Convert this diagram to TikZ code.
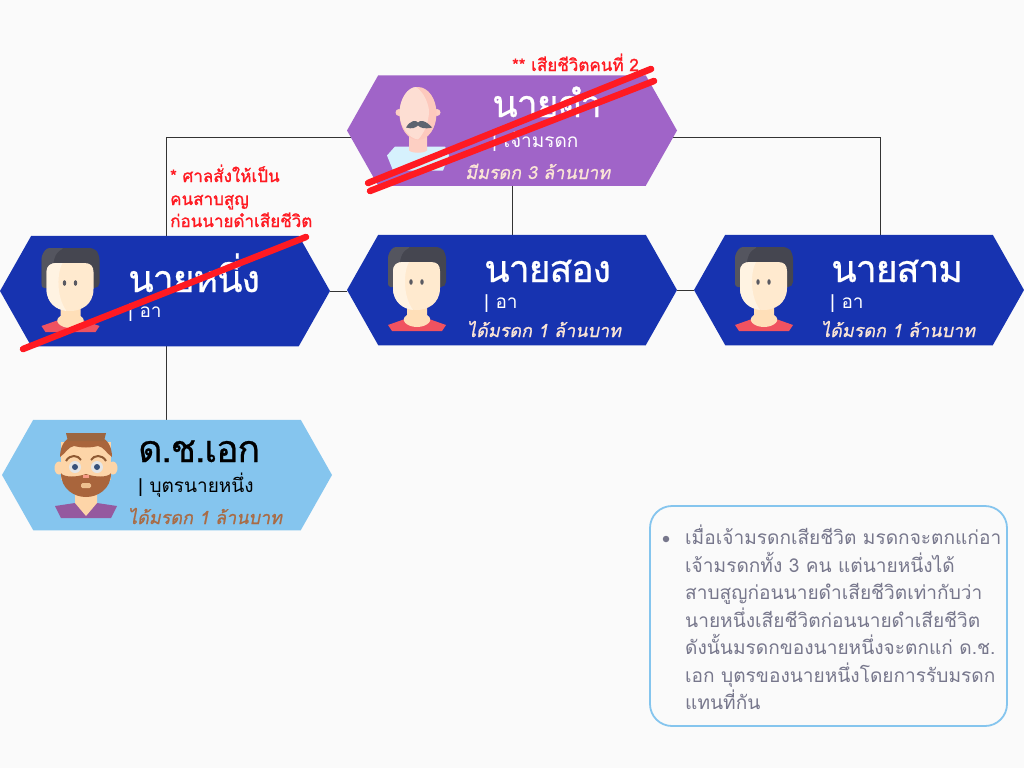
\documentclass[tikz,border=0pt]{standalone}
\usepackage{fontspec}
\setmainfont[Script=Thai]{Loma}
\newfontfamily\titlefont[Script=Thai,FakeBold=0.6,LetterSpace=-3]{Loma}
\newfontfamily\redfont[Script=Thai,FakeBold=1.2]{Loma}
\newfontfamily\moneyfont[Script=Thai,FakeBold=1,FakeSlant=0.2]{Loma}
\usetikzlibrary{shapes.symbols,backgrounds}
\definecolor{pagebg}{HTML}{FAFAFA}
\definecolor{rootfill}{HTML}{A064C8}
\definecolor{heirfill}{HTML}{1733B0}
\definecolor{kidfill}{HTML}{85C5EE}
\definecolor{crossred}{HTML}{FF1A22}
\definecolor{notegray}{HTML}{77778C}
\definecolor{peach}{HTML}{FBE5D6}
\definecolor{brownish}{HTML}{A96B45}
\tikzset{
  hexbox/.style={signal, signal to=east and west, signal pointer angle=121, draw=none,
    minimum width=330pt, minimum height=110.5pt, inner sep=0pt},
  link/.style={draw=black!80, line width=1pt},
  crossout/.style={draw=crossred, line width=6.5pt, line cap=round},
  titletext/.style={anchor=base west, inner sep=0pt, font=\titlefont\fontsize{37.5}{40}\selectfont},
  subtext/.style={anchor=base west, inner sep=0pt, font=\fontsize{19}{24}\selectfont},
  moneytext/.style={anchor=base west, inner sep=0pt, text=peach, font=\moneyfont\fontsize{18}{24}\selectfont},
  redtext/.style={anchor=base west, inner sep=0pt, text=crossred, font=\redfont\fontsize{17}{20}\selectfont},
  pics/youngman/.style={code={
    \fill[rounded corners=5pt, fill={rgb,255:red,69;green,70;blue,80}] (-24,-43) -- (24,-43) -- (29,-36) -- (29,-3) -- (-29,-3) -- (-29,-35) -- cycle;
    \fill[rounded corners=3pt, fill={rgb,255:red,84;green,85;blue,95}] (-24,-43) -- (-6,-43) .. controls (-16,-38) and (-18,-32) .. (-19,-3) -- (-29,-3) -- (-29,-35) -- cycle;
    \fill[fill={rgb,255:red,240;green,82;blue,96}] (-29,35) -- (-12,29) -- (12,29) -- (29,35) -- (25,41) -- (-25,41) -- cycle;
    \fill[fill={rgb,255:red,255;green,223;blue,184}] (-10,12) -- (10,12) -- (10,25) .. controls (18,30) and (10,37) .. (0,37) .. controls (-10,37) and (-18,30) .. (-10,25) -- cycle;
    \fill[fill={rgb,255:red,255;green,234;blue,207}] (-14,-28) -- (14,-28) .. controls (20,-28) and (23,-25) .. (23,-19) -- (23,-2) .. controls (23,14) and (10,20) .. (0,20) .. controls (-10,20) and (-24,14) .. (-24,-2) -- (-24,-19) .. controls (-24,-25) and (-20,-28) .. (-14,-28) -- cycle;
    \fill[fill={rgb,255:red,255;green,243;blue,226}] (-14,-28) -- (-8,-28) .. controls (-13,-20) and (-15,5) .. (-4,20) .. controls (-14,19) and (-24,12) .. (-24,-2) -- (-24,-19) .. controls (-24,-25) and (-20,-28) .. (-14,-28) -- cycle;
    \fill[fill={rgb,255:red,90;green,90;blue,98}] (-6,-8) ellipse (1.7 and 2.8) (5,-8) ellipse (1.7 and 2.8);
  }},
  pics/baldman/.style={code={
    \fill[fill={rgb,255:red,214;green,241;blue,253}] (-31,25) -- (-23,16) -- (27,16) -- (31,25) -- (25,40) -- (-25,40) -- cycle;
    \fill[fill={rgb,255:red,253;green,207;blue,195}] (-9,0) -- (9,0) -- (9,20) .. controls (6,23) and (-6,23) .. (-9,20) -- cycle;
    \fill[fill={rgb,255:red,253;green,207;blue,195}] (-19,-18) circle (3.5) (19,-18) circle (3.5);
    \fill[fill={rgb,255:red,253;green,201;blue,189}] (0,-17) ellipse (18.5 and 26.5);
    \fill[fill={rgb,255:red,253;green,222;blue,211}] (-2,-43.5) .. controls (6,-38) and (10,-28) .. (11,-20) .. controls (11,-8) and (6,3) .. (0,9) .. controls (-10,8) and (-18.5,-6) .. (-18.5,-17) .. controls (-18.5,-32) and (-10,-43.5) .. (-2,-43.5) -- cycle;
    \fill[fill={rgb,255:red,93;green,100;blue,112}] (-12,-3) .. controls (-8,-10) and (-2,-11) .. (0,-8) .. controls (2,-11) and (8,-10) .. (14,-3) .. controls (6,-1) and (2,-3) .. (0,-5) .. controls (-2,-3) and (-6,-1) .. (-12,-3) -- cycle;
  }},
  pics/beardman/.style={code={
    \fill[fill={rgb,255:red,149;green,89;blue,159}] (-31,31) -- (-11,28) -- (11,28) -- (31,31) -- (25,43) -- (-25,43) -- cycle;
    \fill[fill={rgb,255:red,253;green,213;blue,168}] (-11,18) -- (11,18) -- (11,28) -- (0,41) -- (-11,28) -- cycle;
    \fill[fill={rgb,255:red,253;green,213;blue,168}] (-27,-7) ellipse (4.5 and 6.5) (27,-7) ellipse (4.5 and 6.5);
    \fill[fill={rgb,255:red,253;green,213;blue,168}] (-25,-33) rectangle (25,5);
    \fill[fill={rgb,255:red,169;green,101;blue,60}] (-25,-2) .. controls (-22,3) and (-8,2) .. (0,-1) .. controls (8,2) and (22,3) .. (25,-2) .. controls (25,14) and (12,22) .. (0,22) .. controls (-12,22) and (-25,14) .. (-25,-2) -- cycle;
    \fill[fill={rgb,255:red,169;green,101;blue,60}] (-26,-18) .. controls (-26,-32) and (-18,-37) .. (-16,-37) -- (16,-37) .. controls (20,-36) and (26,-30) .. (26,-18) .. controls (20,-22) and (18,-28) .. (12,-29) .. controls (4,-27) and (-4,-27) .. (-12,-29) .. controls (-18,-28) and (-20,-22) .. (-26,-18) -- cycle;
    \fill[fill={rgb,255:red,156;green,102;blue,64}] (-20,-42) -- (20,-42) -- (18,-34) -- (-18,-34) -- cycle;
    \fill[fill={rgb,255:red,229;green,229;blue,229}] (-11,-8) circle (6) (11,-8) circle (6);
    \fill[fill={rgb,255:red,55;green,81;blue,122}] (-11,-8) circle (3) (11,-8) circle (3);
    \draw[line width=2pt, draw={rgb,255:red,143;green,90;blue,51}] (-20,-14) .. controls (-16,-21) and (-8,-20) .. (-5,-15) (20,-14) .. controls (16,-21) and (8,-20) .. (5,-15);
    \fill[fill={rgb,255:red,247;green,155;blue,133}] (-3,-0.5) rectangle (3,3);
    \fill[rounded corners=1.5pt, fill={rgb,255:red,238;green,192;blue,143}] (-5,8) rectangle (5,13);
  }},
}
\begin{document}
\begin{tikzpicture}[x=1pt,y=-1pt]
    \node[hexbox, fill=rootfill] (root) at (512,130.5) {};
    \node[hexbox, fill=heirfill] (one) at (165,291) {};
    \node[hexbox, fill=heirfill] (two) at (512,290) {};
    \node[hexbox, fill=heirfill] (three) at (859,290) {};
    \node[hexbox, fill=kidfill] (ek) at (167,475) {};
    \coordinate (rootleft) at (370,137);
    \coordinate (rootright) at (660,137);
    \coordinate (threetop) at (880,240);
    \coordinate (oneturn) at (166,240);
    \coordinate (ektop) at (166,425);
    % connectors go behind the boxes
    \begin{scope}[on background layer]
    \fill[pagebg] (0,0) rectangle (1024,768);
    \draw[link] (root.south) -- (two.north);
    \draw[link] (rootleft) -| (oneturn);
    \draw[link] (rootright) -| (threetop);
    \draw[link] (one.east) -- (one.east -| two.west);
    \draw[link] (two.east) -- (three.west);
    \draw[link] (ektop |- one.south) -- (ektop);
    \end{scope}
    % faces
    \pic at (418,130.5) {baldman};
    \pic at (70.5,291) {youngman};
    \pic at (417,290) {youngman};
    \pic at (764,290) {youngman};
    \pic at (86,475) {beardman};
    % names
    \node[titletext, text=white] (rootname) at (492,117) {นายดำ};
    \node[subtext, text=white] (rootrole) at (492,147) {| เจ้ามรดก};
    \node[moneytext] (rootmoney) at (465,179) {มีมรดก 3 ล้านบาท};
    \node[titletext, text=white] (onename) at (128,292) {นายหนึ่ง};
    \node[subtext, text=white] (onerole) at (128,317) {| อา};
    \node[titletext, text=white] (twoname) at (484,282) {นายสอง};
    \node[subtext, text=white] (tworole) at (484,308) {| อา};
    \node[moneytext] (twomoney) at (467,337) {ได้มรดก 1 ล้านบาท};
    \node[titletext, text=white] (threename) at (831,282) {นายสาม};
    \node[subtext, text=white] (threerole) at (830,308) {| อา};
    \node[moneytext] (threemoney) at (821,337) {ได้มรดก 1 ล้านบาท};
    \node[titletext, text=black] (ekname) at (138,462) {ด.ช.เอก};
    \node[subtext, text=black] (ekrole) at (138,492) {| บุตรนายหนึ่ง};
    \node[moneytext, text=brownish] (ekmoney) at (128,524) {ได้มรดก 1 ล้านบาท};
    % the red remarks
    \node[redtext] (deadnote) at (512,71) {** เสียชีวิตคนที่ 2};
    \node[redtext] (courta) at (170,182) {* ศาลสั่งให้เป็น};
    \node[redtext] (courtb) at (170,205) {คนสาบสูญ};
    \node[redtext] (courtc) at (170,227) {ก่อนนายดำเสียชีวิต};
    \coordinate (rootcrossa) at (368,183);
    \coordinate (rootcrossb) at (651,69);
    \coordinate (rootcrossc) at (370,191);
    \coordinate (rootcrossd) at (654,81);
    \coordinate (onecrossa) at (23,349);
    \coordinate (onecrossb) at (306,237);
    \draw[crossout] (rootcrossa) -- (rootcrossb);
    \draw[crossout] (rootcrossc) -- (rootcrossd);
    \draw[crossout] (onecrossa) -- (onecrossb);
    % the note at the lower right
    \node[draw={rgb,255:red,133;green,197;blue,238}, line width=1.8pt, rounded corners=22pt, fill=pagebg,
        minimum width=357pt, minimum height=220pt, inner sep=0pt] (notebox) at (828.5,616) {};
    \node[circle, fill=notegray, inner sep=0pt, minimum size=6.5pt] (notebullet) at (666,539) {};
    \node[anchor=north west, inner sep=0pt, text=notegray, align=left,
        font=\fontsize{19.1}{27.5}\selectfont] (notetext) at (685,525) {เมื่อเจ้ามรดกเสียชีวิต มรดกจะตกแก่อา\\
        เจ้ามรดกทั้ง 3 คน แต่นายหนึ่งได้\\
        สาบสูญก่อนนายดำเสียชีวิตเท่ากับว่า\\
        นายหนึ่งเสียชีวิตก่อนนายดำเสียชีวิต\\
        ดังนั้นมรดกของนายหนึ่งจะตกแก่ ด.ช.\\
        เอก บุตรของนายหนึ่งโดยการรับมรดก\\
        แทนที่กัน};
\end{tikzpicture}
\end{document}
